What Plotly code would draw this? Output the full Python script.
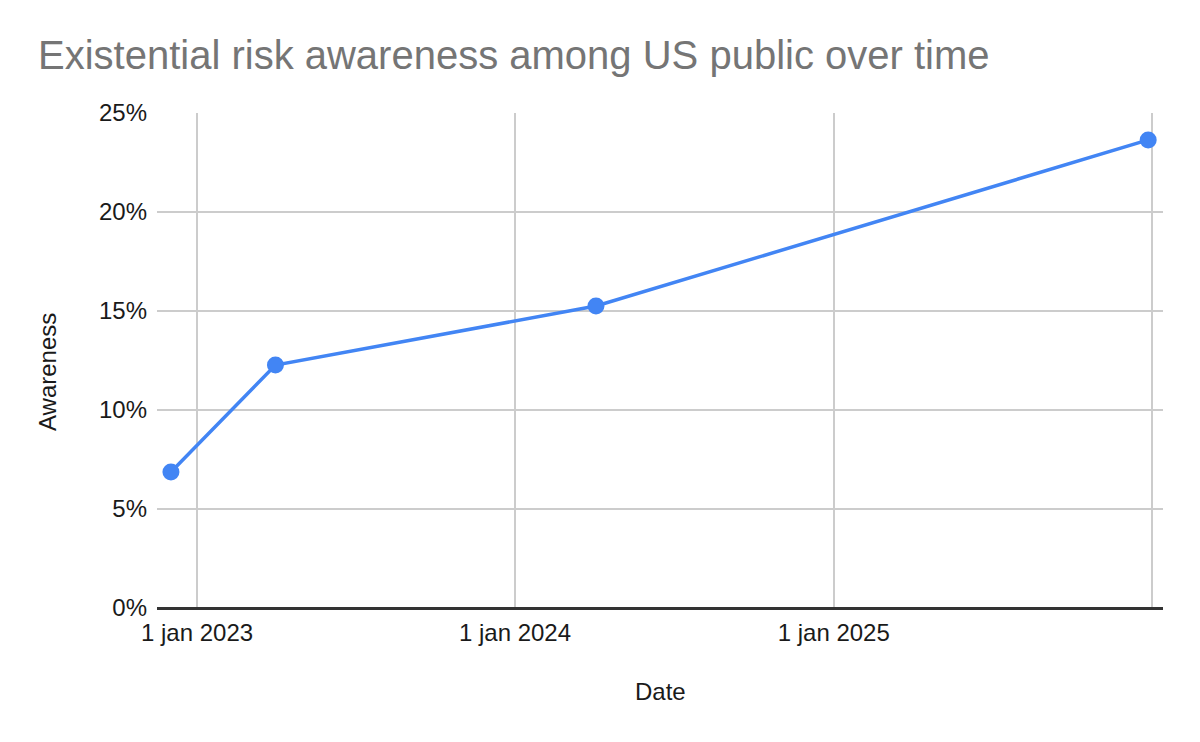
import plotly.graph_objects as go

dates = ["2022-12-02", "2023-04-01", "2024-04-03", "2025-12-28"]
awareness = [0.0687, 0.1227, 0.1525, 0.2364]

tick_dates = ["2023-01-01", "2024-01-01", "2025-01-01", "2026-01-01"]
tick_labels = ["1 jan 2023", "1 jan 2024", "1 jan 2025", ""]
y_ticks = [0, 0.05, 0.10, 0.15, 0.20, 0.25]
y_labels = ["0%", "5%", "10%", "15%", "20%", "25%"]

FONT = "Liberation Sans, Arial, sans-serif"
TXT = "#1a1a1a"
FS = 24

# page body has an 8px margin, so the figure is 8px smaller and offset
W, H = 1192, 734

fig = go.Figure()
fig.add_trace(go.Scatter(
    x=dates, y=awareness, mode="lines+markers",
    line=dict(color="#4285F4", width=3.5),
    marker=dict(color="#4285F4", size=17),
    showlegend=False,
))

fig.update_layout(
    width=W, height=H,
    paper_bgcolor="white", plot_bgcolor="white",
    margin=dict(l=149, r=37, t=105, b=134, autoexpand=False),
    font=dict(family=FONT, size=FS, color=TXT),
    title=dict(text="Existential risk awareness among US public over time",
               font=dict(family=FONT, size=40, color="#757575"),
               xref="container", x=30/W, xanchor="left",
               yref="container", y=1-47/H, yanchor="middle"),
    xaxis=dict(
        type="date", automargin=False,
        range=["2022-11-16", "2026-01-14"],
        tickvals=tick_dates, ticktext=tick_labels,
        showgrid=True, gridcolor="#cccccc", gridwidth=2,
        showline=False, zeroline=False,
        ticks="", ticklabelstandoff=8,
        tickfont=dict(size=FS, color=TXT),
    ),
    yaxis=dict(
        automargin=False,
        range=[0, 0.25],
        tickvals=y_ticks, ticktext=y_labels,
        showgrid=True, gridcolor="#cccccc", gridwidth=2,
        zeroline=True, zerolinecolor="#333333", zerolinewidth=2.5,
        showline=False,
        ticks="", ticklabelstandoff=9,
        tickfont=dict(size=FS, color=TXT),
    ),
    annotations=[
        dict(text="Date", xref="paper", yref="paper", x=0.5, y=-(691-608)/495,
             xanchor="center", yanchor="middle", showarrow=False,
             font=dict(size=FS, color=TXT)),
        dict(text="Awareness", xref="paper", yref="paper", x=-(157-47)/1006, y=(608-372)/495,
             xanchor="center", yanchor="middle", textangle=-90, showarrow=False,
             font=dict(size=FS, color=TXT)),
    ],
)

fig.write_html("out.html")
